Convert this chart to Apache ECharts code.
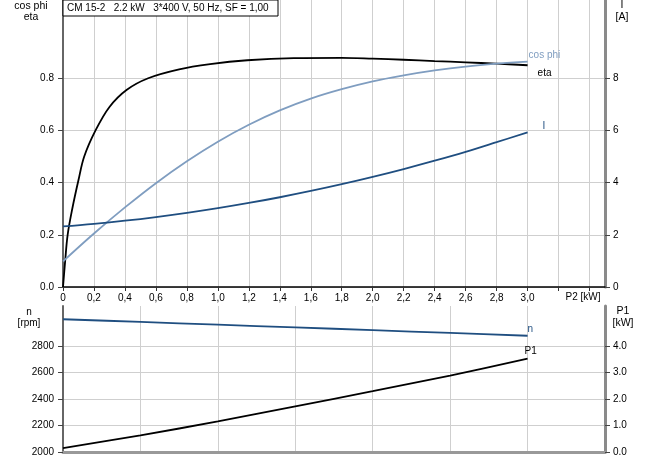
<!DOCTYPE html>
<html>
<head>
<meta charset="utf-8">
<script src="https://cdn.jsdelivr.net/npm/echarts@6/dist/echarts.min.js"></script>
<style>html,body{margin:0;padding:0;background:#fff}#c{width:656px;height:460px}</style>
</head>
<body>
<div id="c"></div>
<script>
// ---- data ----
const titleText = 'CM 15-2   2.2 kW   3*400 V, 50 Hz, SF = 1,00';
const p2Eta = [0, 0.014, 0.03, 0.06, 0.1, 0.137, 0.21, 0.3, 0.41, 0.55, 0.75, 0.95, 1.19, 1.49, 1.8, 2.0, 2.2, 2.4, 2.6, 2.8, 3.0];
const eta   = [0, 0.1, 0.2, 0.30, 0.41, 0.5, 0.6, 0.69, 0.755, 0.8, 0.834, 0.854, 0.869, 0.877, 0.878, 0.875, 0.871, 0.866, 0.861, 0.856, 0.85];
const p2Grid = [0, 0.2, 0.4, 0.6, 0.8, 1.0, 1.2, 1.4, 1.6, 1.8, 2.0, 2.2, 2.4, 2.6, 2.8, 3.0];
const cosPhi = [0.098, 0.205, 0.305, 0.398, 0.482, 0.557, 0.622, 0.677, 0.722, 0.758, 0.788, 0.811, 0.83, 0.845, 0.856, 0.864];
const currentA = [2.32, 2.42, 2.54, 2.68, 2.84, 3.02, 3.22, 3.44, 3.68, 3.94, 4.22, 4.52, 4.84, 5.18, 5.55, 5.93];
const p2Low = [0, 0.5, 1.0, 1.5, 2.0, 2.5, 3.0];
const speedRpm = [3000, 2980, 2959, 2939, 2918, 2897, 2876];
const p1kW = [0.15, 0.63, 1.15, 1.72, 2.29, 2.88, 3.52];
// tick labels
const p2TickLabels = [0, 0.2, 0.4, 0.6, 0.8, 1.0, 1.2, 1.4, 1.6, 1.8, 2.0, 2.2, 2.4, 2.6, 2.8, 3.0];
const p2TickMarks = [0, 0.2, 0.4, 0.6, 0.8, 1.0, 1.2, 1.4, 1.6, 1.8, 2.0, 2.2, 2.4, 2.6, 2.8, 3.0, 3.2, 3.4];
const etaTicks = [0, 0.2, 0.4, 0.6, 0.8];
const ampTicks = [0, 2, 4, 6, 8];
const rpmTicks = [2000, 2200, 2400, 2600, 2800];
const kwTicks = [0, 1, 2, 3, 4];

const pairs = (xs, ys) => xs.map((x, i) => [x, ys[i]]);
const FONT = 'Liberation Sans';
const gridColor = '#cfcfcf';

const chart = echarts.init(document.getElementById('c'), null, {renderer: 'canvas'});
const lbl = {fontSize: 10, color: '#000', fontFamily: FONT};

chart.setOption({
  animation: false,
  textStyle: {fontFamily: FONT},
  grid: [
    {left: 63, right: 51, top: 0, height: 287},
    {left: 63, right: 51, top: 306, height: 146}
  ],
  xAxis: [
    {
      type: 'value', gridIndex: 0, min: 0, max: 3.5, interval: 0.2,
      axisLine: {show: true, onZero: false, lineStyle: {color: '#000', width: 1.5}},
      axisTick: {show: true, length: 4, customValues: p2TickMarks, lineStyle: {color: '#333'}},
      axisLabel: Object.assign({margin: 6, customValues: p2TickLabels,
        formatter: v => v === 0 ? '0' : v.toFixed(1).replace('.', ',')}, lbl),
      splitLine: {show: true, lineStyle: {color: gridColor, width: 1}}
    },
    {
      type: 'value', gridIndex: 1, min: 0, max: 3.5, interval: 0.5,
      axisLine: {show: true, onZero: false, lineStyle: {color: '#999', width: 3}},
      axisTick: {show: false},
      axisLabel: {show: false},
      splitLine: {show: true, lineStyle: {color: gridColor, width: 1}}
    }
  ],
  yAxis: [
    {
      type: 'value', gridIndex: 0, min: 0, max: 1.1, interval: 0.1,
      axisLine: {show: true, lineStyle: {color: '#666', width: 2}},
      axisTick: {show: true, length: 5, customValues: etaTicks, lineStyle: {color: '#444'}},
      axisLabel: Object.assign({margin: 9, customValues: etaTicks, formatter: v => v.toFixed(1)}, lbl),
      splitLine: {show: true, lineStyle: {color: gridColor, width: 1}}
    },
    {
      type: 'value', gridIndex: 0, position: 'right', min: 0, max: 11, interval: 1,
      axisLine: {show: true, lineStyle: {color: '#8a8a8a', width: 3}},
      axisTick: {show: true, length: 5, customValues: ampTicks, lineStyle: {color: '#444'}},
      axisLabel: Object.assign({margin: 8, customValues: ampTicks, formatter: v => String(v)}, lbl),
      splitLine: {show: false}
    },
    {
      type: 'value', gridIndex: 1, min: 2000, max: 3100, interval: 100,
      axisLine: {show: true, lineStyle: {color: '#666', width: 2}},
      axisTick: {show: true, length: 5, customValues: rpmTicks, lineStyle: {color: '#444'}},
      axisLabel: Object.assign({margin: 9, customValues: rpmTicks, formatter: v => String(v)}, lbl),
      splitLine: {show: true, lineStyle: {color: gridColor, width: 1}}
    },
    {
      type: 'value', gridIndex: 1, position: 'right', min: 0, max: 5.5, interval: 0.5,
      axisLine: {show: true, lineStyle: {color: '#8a8a8a', width: 3}},
      axisTick: {show: true, length: 5, customValues: kwTicks, lineStyle: {color: '#444'}},
      axisLabel: Object.assign({margin: 8, customValues: kwTicks, formatter: v => v.toFixed(1)}, lbl),
      splitLine: {show: false}
    }
  ],
  series: [
    {
      name: 'eta', type: 'line', xAxisIndex: 0, yAxisIndex: 0, smooth: 0.35,
      showSymbol: false, data: pairs(p2Eta, eta),
      lineStyle: {color: '#000', width: 1.8},
      endLabel: {show: true, formatter: 'eta', fontSize: 10, color: '#000', offset: [2, 8]}
    },
    {
      name: 'cos phi', type: 'line', xAxisIndex: 0, yAxisIndex: 0, smooth: 0.4,
      showSymbol: false, data: pairs(p2Grid, cosPhi),
      lineStyle: {color: '#7f9dc0', width: 1.8},
      endLabel: {show: true, formatter: 'cos phi', fontSize: 10, color: '#7f9dc0', offset: [-7, -6]}
    },
    {
      name: 'I', type: 'line', xAxisIndex: 0, yAxisIndex: 1, smooth: 0.4,
      showSymbol: false, data: pairs(p2Grid, currentA),
      lineStyle: {color: '#1f4e80', width: 1.8},
      endLabel: {show: true, formatter: 'I', fontSize: 10, color: '#1f4e80', offset: [7, -6]}
    },
    {
      name: 'n', type: 'line', xAxisIndex: 1, yAxisIndex: 2, smooth: 0.3,
      showSymbol: false, data: pairs(p2Low, speedRpm),
      lineStyle: {color: '#1f4e80', width: 1.8},
      endLabel: {show: true, formatter: 'n', fontSize: 10, color: '#1f4e80', offset: [-8, -6]}
    },
    {
      name: 'P1', type: 'line', xAxisIndex: 1, yAxisIndex: 3, smooth: 0.3,
      showSymbol: false, data: pairs(p2Low, p1kW),
      lineStyle: {color: '#000', width: 1.8},
      endLabel: {show: true, formatter: 'P1', fontSize: 10, color: '#000', offset: [-11, -7]}
    }
  ],
  graphic: [
    {type: 'rect', shape: {x: 63, y: 0, width: 215, height: 16}, style: {fill: '#fff', stroke: '#000', lineWidth: 1}, z: 100},
    {type: 'text', x: 67, y: 8, style: {text: titleText, fontSize: 10, fontFamily: FONT, fill: '#000', verticalAlign: 'middle'}, z: 101},
    {type: 'text', x: 31, y: 6, style: {text: 'cos phi', fontSize: 10.5, fontFamily: FONT, fill: '#000', align: 'center', verticalAlign: 'middle'}},
    {type: 'text', x: 31, y: 17, style: {text: 'eta', fontSize: 10.5, fontFamily: FONT, fill: '#000', align: 'center', verticalAlign: 'middle'}},
    {type: 'text', x: 622, y: 5, style: {text: 'I', fontSize: 10.5, fontFamily: FONT, fill: '#000', align: 'center', verticalAlign: 'middle'}},
    {type: 'text', x: 622, y: 17, style: {text: '[A]', fontSize: 10.5, fontFamily: FONT, fill: '#000', align: 'center', verticalAlign: 'middle'}},
    {type: 'text', x: 583, y: 297, style: {text: 'P2 [kW]', fontSize: 10, fontFamily: FONT, fill: '#000', align: 'center', verticalAlign: 'middle'}},
    {type: 'text', x: 29, y: 312, style: {text: 'n', fontSize: 10, fontFamily: FONT, fill: '#000', align: 'center', verticalAlign: 'middle'}},
    {type: 'text', x: 29, y: 323, style: {text: '[rpm]', fontSize: 10, fontFamily: FONT, fill: '#000', align: 'center', verticalAlign: 'middle'}},
    {type: 'text', x: 623, y: 311, style: {text: 'P1', fontSize: 10.5, fontFamily: FONT, fill: '#000', align: 'center', verticalAlign: 'middle'}},
    {type: 'text', x: 623, y: 323, style: {text: '[kW]', fontSize: 10.5, fontFamily: FONT, fill: '#000', align: 'center', verticalAlign: 'middle'}}
  ]
});
</script>
</body>
</html>
